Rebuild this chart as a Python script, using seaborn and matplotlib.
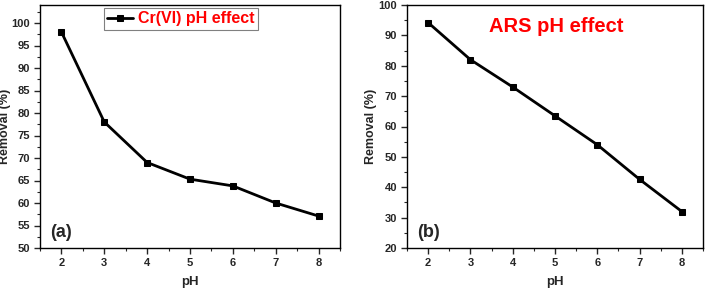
import matplotlib
matplotlib.use('Agg')
import matplotlib.pyplot as plt
import numpy as np
import pandas as pd
import seaborn as sns
from matplotlib.ticker import MultipleLocator

ph = [2, 3, 4, 5, 6, 7, 8]
cr_removal = [98.0, 78.0, 69.0, 65.3, 63.8, 60.0, 57.1]
ars_removal = [94.2, 82.0, 73.0, 63.5, 54.0, 42.6, 32.0]

sns.set_style('ticks')
plt.rcParams['font.family'] = ['Liberation Sans', 'DejaVu Sans']
plt.rcParams['font.weight'] = 'bold'

fig = plt.figure(figsize=(7.07, 2.88), dpi=100)
ax1 = fig.add_axes([40 / 707, 40 / 288, 300 / 707, 243 / 288])
ax2 = fig.add_axes([407 / 707, 40 / 288, 296 / 707, 243 / 288])

df1 = pd.DataFrame({'pH': ph, 'Removal': cr_removal})
df2 = pd.DataFrame({'pH': ph, 'Removal': ars_removal})

sns.lineplot(data=df1, x='pH', y='Removal', ax=ax1, color='black', lw=2,
             marker='s', markersize=5, markeredgecolor='black', label='Cr(VI) pH effect')
sns.lineplot(data=df2, x='pH', y='Removal', ax=ax2, color='black', lw=2,
             marker='s', markersize=5, markeredgecolor='black', legend=False)

for ax in (ax1, ax2):
    ax.set_xlim(1.5, 8.5)
    ax.xaxis.set_major_locator(MultipleLocator(1))
    ax.xaxis.set_minor_locator(MultipleLocator(0.5))
    ax.tick_params(which='major', direction='out', length=4, width=1, labelsize=8, pad=3)
    ax.tick_params(which='minor', direction='out', length=2, width=0.8)
    for lab in ax.get_xticklabels() + ax.get_yticklabels():
        lab.set_fontweight('bold')
    for s in ax.spines.values():
        s.set_linewidth(1)
        s.set_color('black')
    ax.set_xlabel('pH', fontsize=9.5, fontweight='bold')
    ax.xaxis.set_label_coords(0.5, -0.115)
    ax.set_ylabel('Removal (%)', fontsize=9, fontweight='bold')

ax1.yaxis.set_label_coords(-0.097, 0.5)
ax2.yaxis.set_label_coords(-0.1, 0.5)

ax1.set_ylim(50, 104)
ax1.yaxis.set_major_locator(MultipleLocator(5))
ax1.yaxis.set_minor_locator(MultipleLocator(2.5))
ax2.set_ylim(20, 100)
ax2.yaxis.set_major_locator(MultipleLocator(10))
ax2.yaxis.set_minor_locator(MultipleLocator(5))

leg = ax1.legend(loc='upper left', bbox_to_anchor=(0.213, 0.987), fancybox=False,
                 edgecolor='gray', framealpha=1, handlelength=1.6, handletextpad=0.35,
                 borderpad=0.2, borderaxespad=0, prop={'size': 11.5, 'weight': 'bold'})
leg.get_frame().set_linewidth(0.8)
for t in leg.get_texts():
    t.set_color('red')

ax1.text(0.035, 0.045, '(a)', transform=ax1.transAxes, fontsize=13, fontweight='bold')
ax2.text(0.035, 0.045, '(b)', transform=ax2.transAxes, fontsize=13, fontweight='bold')
ax2.text(0.505, 0.91, 'ARS pH effect', transform=ax2.transAxes, fontsize=14.5,
         fontweight='bold', color='red', ha='center', va='center')

fig.savefig('out.png', dpi=100)
